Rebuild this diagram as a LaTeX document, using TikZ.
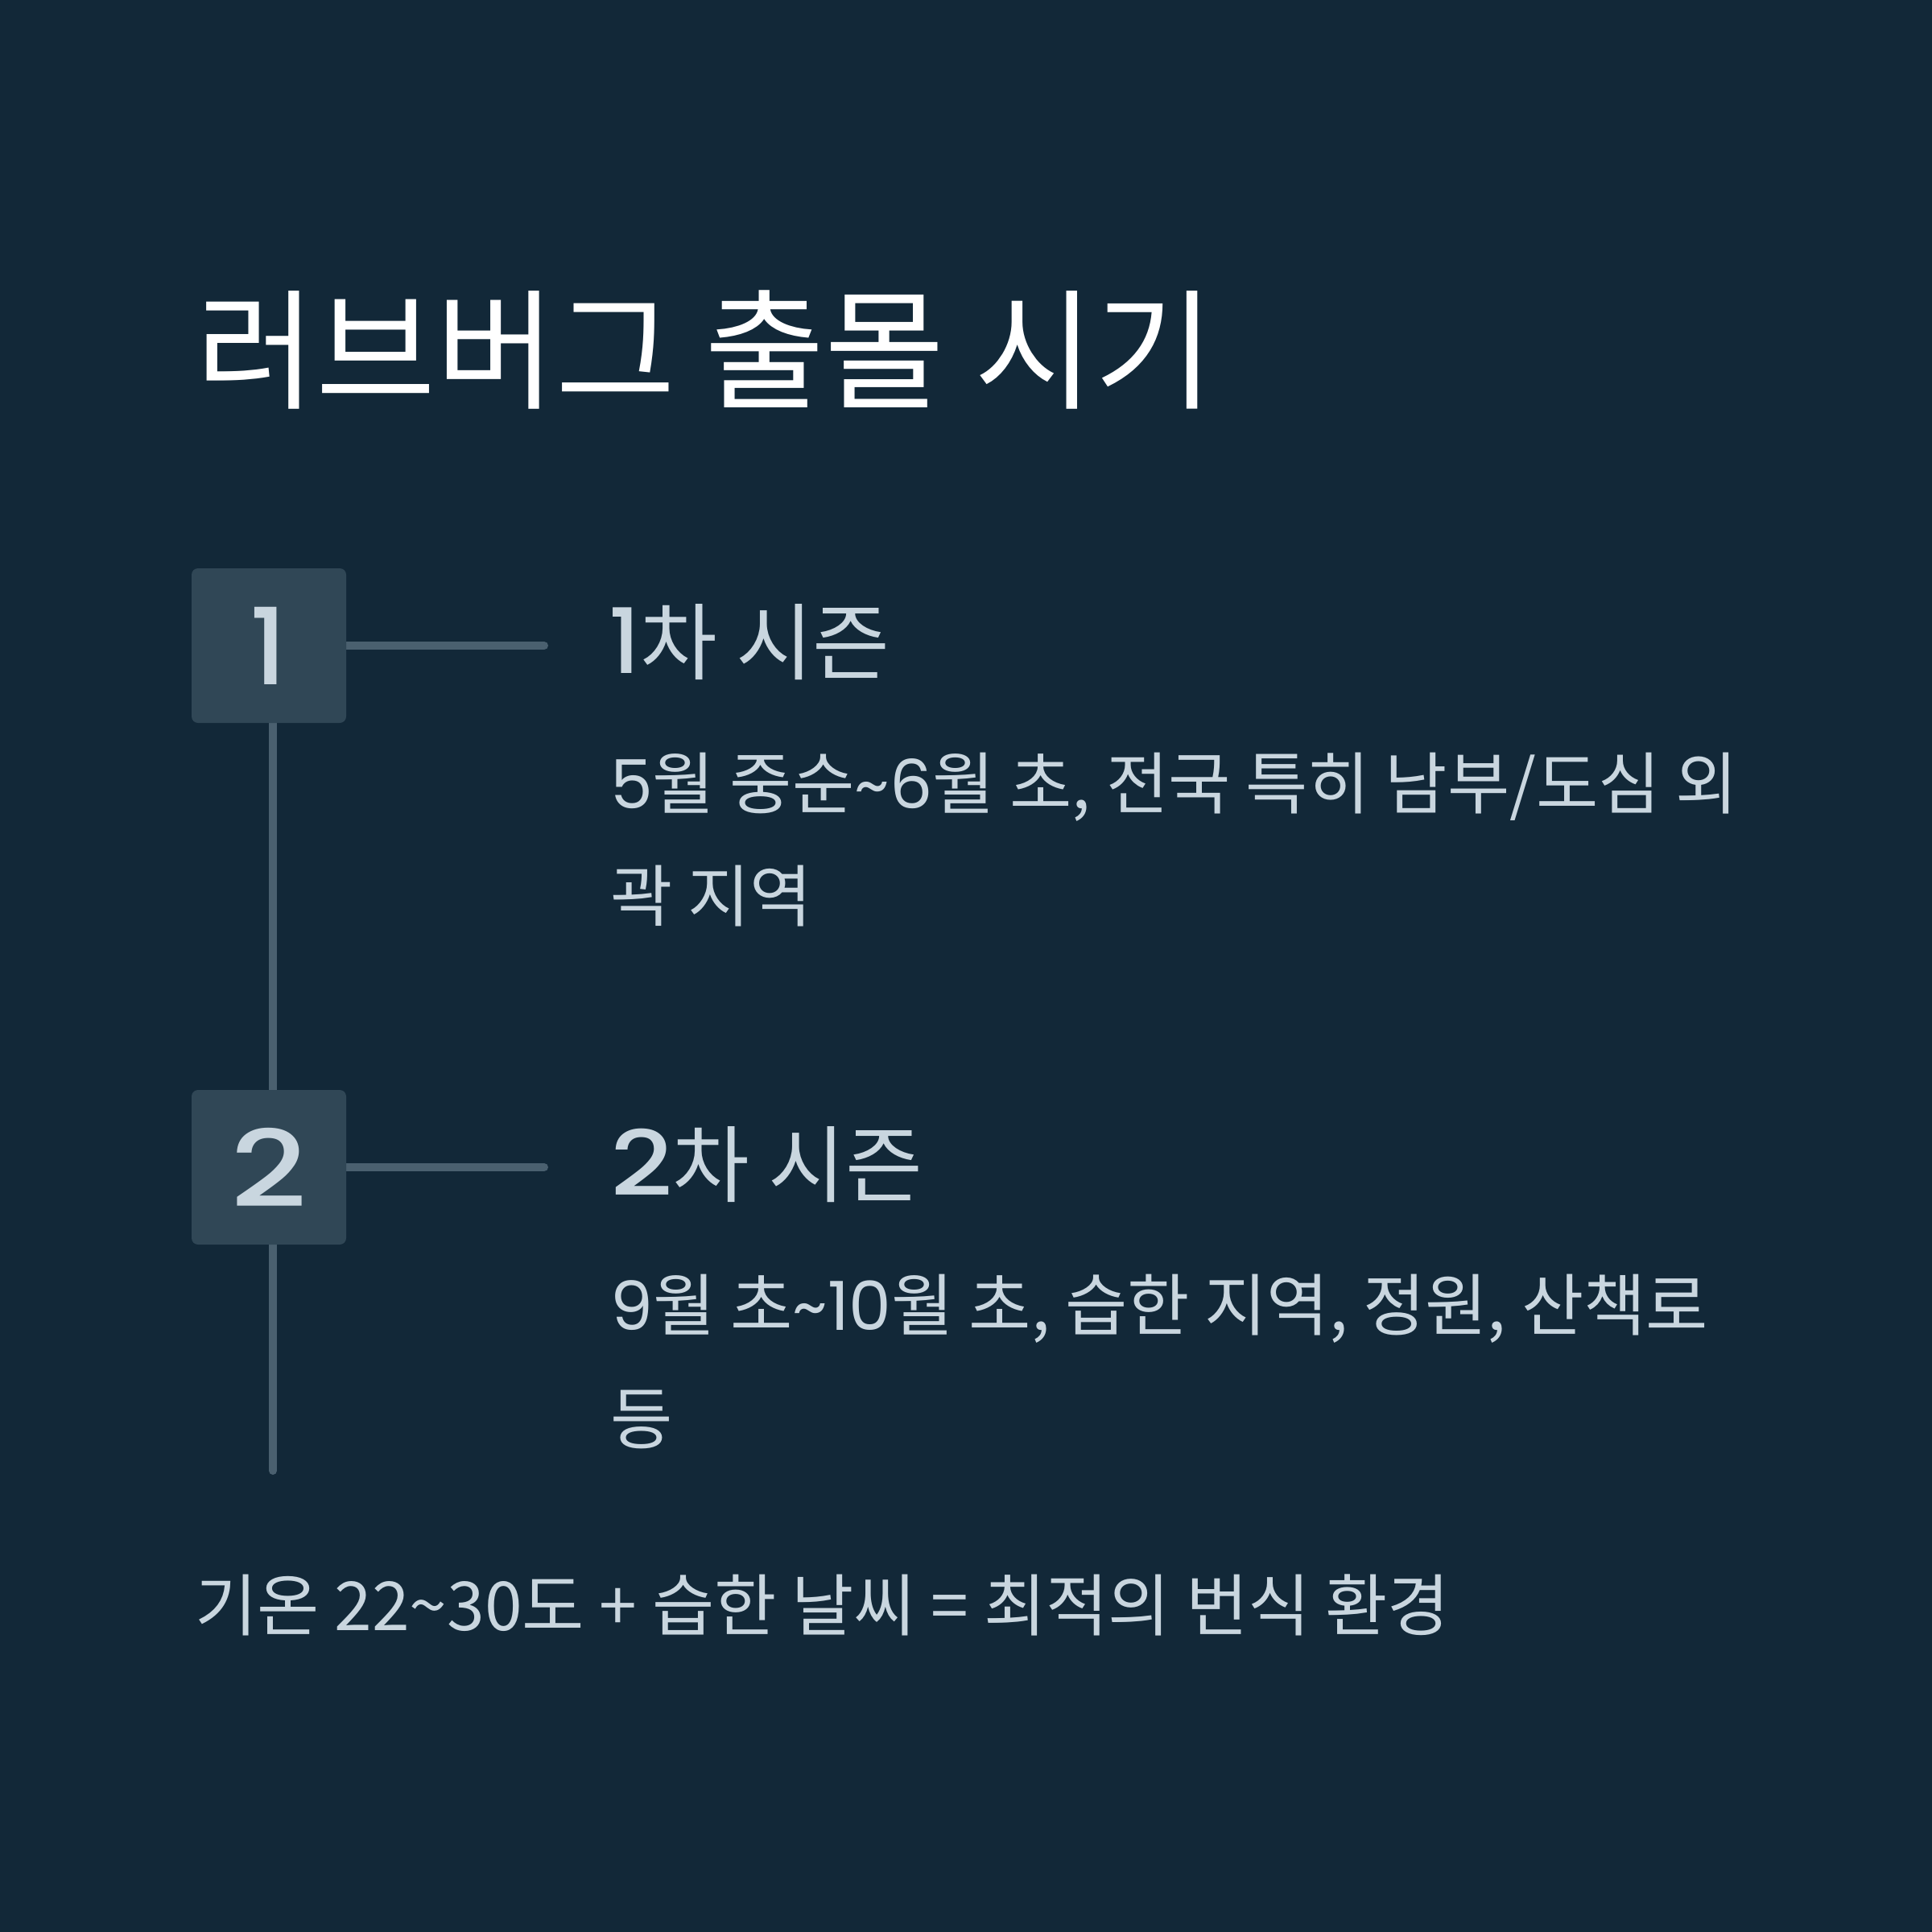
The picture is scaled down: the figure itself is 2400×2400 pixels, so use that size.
\documentclass[tikz,border=0pt]{standalone}
\usepackage{fontspec}
\setmainfont{Noto Sans CJK KR}
\newfontfamily\popf{Poppins}
\newfontfamily\popm{Poppins Medium}
\usetikzlibrary{backgrounds}
\definecolor{bgc}{HTML}{122838}
\definecolor{boxc}{HTML}{304756}
\definecolor{linec}{HTML}{4A606F}
\definecolor{txtc}{HTML}{C9D6DF}
\newcommand\dg[1]{{\popf #1}}
\newcommand\hdg[1]{{\popm\fontsize{112}{112}\selectfont #1}}
\begin{document}
\begin{tikzpicture}[x=1pt,y=-1pt,
  numbox/.style={fill=boxc, rounded corners=8pt, minimum size=192pt, inner sep=0pt, text=txtc,
    font=\popm\fontsize{132}{132}\selectfont},
  conn/.style={draw=linec, line width=10pt, line cap=round},
  titletext/.style={anchor=west, inner sep=0pt, text=white, font=\fontsize{162}{162}\selectfont},
  headtext/.style={anchor=west, inner sep=0pt, text=txtc, font=\fontsize{104}{104}\selectfont},
  bodytext/.style={anchor=west, inner sep=0pt, text=txtc, font=\fontsize{84}{84}\selectfont},
  foottext/.style={anchor=west, inner sep=0pt, text=txtc, font=\fontsize{84}{84}\selectfont}]
\useasboundingbox (0,0) rectangle (2400,2400);
\node[titletext] (title) at (243,435) {러브버그 출몰 시기};
\node[numbox] (b1) at (334,802) {1};
\node[numbox] (b2) at (334,1450) {\scalebox{1.25}[1]{2}};
\coordinate (h1) at (676,802);
\coordinate (h2) at (676,1450);
\coordinate (vend) at (339,1827);
\begin{scope}[on background layer]
  \fill[bgc] (0,0) rectangle (2400,2400);
  \draw[conn] (b1.east) -- (h1);
  \draw[conn] (b2.east) -- (h2);
  \draw[conn] ([xshift=5pt]b1.south) -- ([xshift=5pt]b2.north);
  \draw[conn] ([xshift=5pt]b2.south) -- (vend);
\end{scope}
\node[headtext] (s1) at (756,798) {\hdg{1}차 시즌};
\node[bodytext] (d1a) at (758,978) {\dg{5}월 중순\dg{\textasciitilde6}월 초, 전국 특히 남부/도심 외};
\node[bodytext] (d1b) at (758,1113) {곽 지역};
\node[headtext] (s2) at (758,1447) {\hdg{\scalebox{1.2}[1]{2}}차 시즌};
\node[bodytext] (d2a) at (758,1626) {\dg{9}월 초\dg{\textasciitilde10}월 초, 습한 지역, 정원, 산책로};
\node[bodytext] (d2b) at (758,1763) {등};
\node[foottext] (foot) at (242,1994) {기온 22\textasciitilde30도 + 습한 날씨 = 최적의 번식 환경};
\end{tikzpicture}
\end{document}
